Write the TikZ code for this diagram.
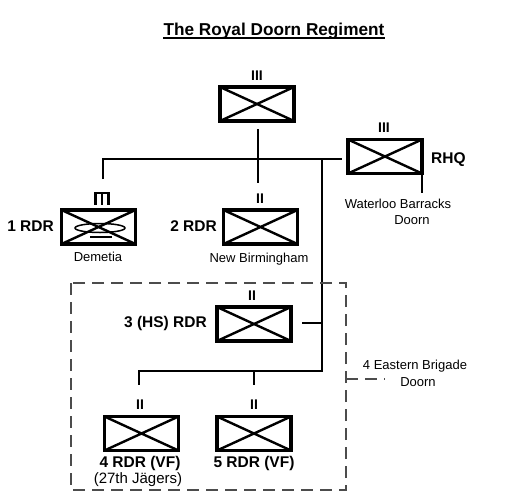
\documentclass[tikz,border=0pt]{standalone}
\usepackage{fontspec}
\setmainfont{Liberation Sans}
\begin{document}
\begin{tikzpicture}[x=1pt,y=-1pt,
  unitbox/.style={draw, line width=3.6pt, minimum width=74pt, minimum height=34pt, inner sep=0pt,
    path picture={\draw[line width=2.4pt] (path picture bounding box.north west) -- (path picture bounding box.south east)
      (path picture bounding box.south west) -- (path picture bounding box.north east);}},
  conn/.style={line width=2.8pt},
  echelon/.style={font=\fontsize{14}{14}\selectfont\bfseries, inner sep=0pt},
  bold/.style={font=\fontsize{15.5}{16}\selectfont\bfseries, inner sep=0pt},
  small/.style={font=\fontsize{13}{14}\selectfont, inner sep=0pt},
  brig/.style={draw=black!70, line width=1.3pt, dash pattern=on 12pt off 7pt}
]
\useasboundingbox (0,0) rectangle (528,496);
% title
\node[font=\fontsize{17.2}{18}\selectfont\bfseries, inner sep=0pt] (title) at (274,31) {The Royal Doorn Regiment};
\draw[line width=2pt] ([yshift=-3pt]title.base west) -- ([yshift=-3pt]title.base east);

% boxes
\node[unitbox] (top) at (257,104) {};
\node[echelon] (topE) at (257,76) {III};
\node[unitbox] (rhq) at (385,156.5) {};
\node[echelon] (rhqE) at (384,128) {III};
\node[bold, anchor=west] (rhqL) at (431,160) {RHQ};
\node[small] (wb1) at (398,204) {Waterloo Barracks};
\node[small] (wb2) at (412,220) {Doorn};

\node[unitbox] (r1) at (98.5,227) {};
\node[bold, anchor=east] (r1L) at (54,226) {1 RDR};
\node[small] (r1P) at (98,257) {Demetia};
\node[unitbox] (r2) at (260.5,227) {};
\node[echelon] (r2E) at (260,199) {II};
\node[bold, anchor=east] (r2L) at (217,226) {2 RDR};
\node[small] (r2P) at (259,259) {New Birmingham};

\node[unitbox] (r3) at (254,324) {};
\node[echelon] (r3E) at (252,296) {II};
\node[bold, anchor=east] (r3L) at (207,323) {3 (HS) RDR};

\node[unitbox] (r4) at (141.5,433.5) {};
\node[echelon] (r4E) at (140,405) {II};
\node[bold] (r4L) at (140,463) {4 RDR (VF)};
\node[font=\fontsize{15}{16}\selectfont, inner sep=0pt] (r4P) at (138,480) {(27th Jägers)};
\node[unitbox] (r5) at (254,433.5) {};
\node[echelon] (r5E) at (254,405) {II};
\node[bold] (r5L) at (254,463) {5 RDR (VF)};

% 1 RDR special symbol
\draw[line width=2.4pt] (94,193) -- (110,193);
\draw[line width=2.2pt] (95.5,192.5) -- (95.5,205) (102,192.5) -- (102,205) (108.5,192.5) -- (108.5,205);
\draw[line width=1.5pt] (100,228) ellipse [x radius=25, y radius=4.5];
\draw[line width=2.4pt] (90,237) -- (112,237);

% connectors
\coordinate (tA) at (258,129);
\coordinate (tB) at (258,183);
\coordinate (bL) at (103,159);
\coordinate (bL2) at (103,179);
\coordinate (bR) at (342,159);
\coordinate (vJ) at (322,159);
\coordinate (vK) at (322,323);
\coordinate (vL) at (322,371);
\coordinate (h3) at (302,323);
\coordinate (lL) at (139,371);
\coordinate (lL2) at (139,385);
\coordinate (lM) at (254,371);
\coordinate (lM2) at (254,385);
\coordinate (rt0) at (422,174);
\coordinate (rt) at (422,193);
\draw[conn] (tA) -- (tB);
\draw[conn] (bL2) -- (bL) -- (bR);
\draw[conn] (vJ) -- (vL) -- (lL) -- (lL2);
\draw[conn] (lM) -- (lM2);
\draw[conn] (h3) -- (vK);
\draw[conn] (rt0) -- (rt);

% brigade box
\coordinate (bx1) at (71,283);
\coordinate (bx2) at (346,490);
\draw[brig] (bx1) rectangle (bx2);
\coordinate (bt) at (346,379);
\coordinate (bt2) at (385,379);
\draw[brig] (bt) -- (bt2);
\node[small] (eb1) at (415,366) {4 Eastern Brigade};
\node[small] (eb2) at (418,382) {Doorn};
\end{tikzpicture}
\end{document}
